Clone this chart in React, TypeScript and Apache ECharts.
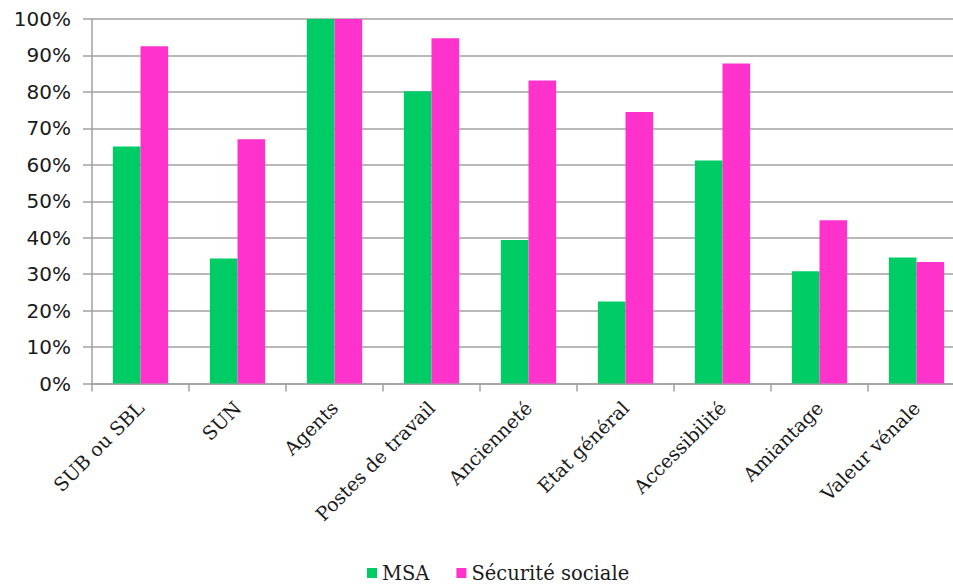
import React, { useEffect, useRef } from "react";
import * as echarts from "echarts";

const categories = [
  "SUB ou SBL",
  "SUN",
  "Agents",
  "Postes de travail",
  "Ancienneté",
  "Etat général",
  "Accessibilité",
  "Amiantage",
  "Valeur vénale",
];
const msaValues = [65.0, 34.3, 100, 80.2, 39.4, 22.5, 61.2, 30.8, 34.6];
const secuValues = [92.5, 67.0, 100, 94.7, 83.1, 74.5, 87.8, 44.8, 33.3];
const seriesNames = ["MSA", "Sécurité sociale"];

export default function App() {
  const ref = useRef<HTMLDivElement>(null);
  useEffect(() => {
    if (!ref.current) return;
    const chart = echarts.init(ref.current, undefined, { renderer: "svg" });
    chart.setOption({
      animation: false,
      backgroundColor: "#ffffff",
      grid: { left: 92, right: 0, top: 19, bottom: 203.5, containLabel: false },
      legend: {
        left: 362,
        bottom: -1,
        itemWidth: 10,
        itemHeight: 10,
        itemGap: 27,
        icon: "rect",
        textStyle: { fontFamily: "DejaVu Serif", fontSize: 19.5, color: "#1a1a1a" },
        data: seriesNames,
      },
      xAxis: {
        type: "category",
        data: categories,
        axisLine: { lineStyle: { color: "#a0a0a0", width: 1.5 } },
        axisTick: { show: true, length: 8, lineStyle: { color: "#a0a0a0", width: 1.5 } },
        axisLabel: {
          rotate: 45,
          interval: 0,
          margin: 21,
          fontFamily: "DejaVu Serif",
          fontSize: 19,
          color: "#1a1a1a",
        },
      },
      yAxis: {
        type: "value",
        min: 0,
        max: 100,
        interval: 10,
        axisLine: { show: true, lineStyle: { color: "#a0a0a0", width: 1.5 } },
        axisTick: { show: true, length: 9, lineStyle: { color: "#a0a0a0", width: 1.5 } },
        splitLine: { lineStyle: { color: "#a0a0a0", width: 1.5 } },
        axisLabel: {
          margin: 21,
          formatter: "{value}%",
          fontFamily: "DejaVu Sans",
          fontSize: 20,
          color: "#1a1a1a",
        },
      },
      series: [
        {
          name: seriesNames[0],
          type: "bar",
          data: msaValues,
          barGap: "0%",
          barCategoryGap: "43%",
          itemStyle: { color: "#00cc66" },
        },
        {
          name: seriesNames[1],
          type: "bar",
          data: secuValues,
          barGap: "0%",
          barCategoryGap: "43%",
          itemStyle: { color: "#ff33cc" },
        },
      ],
    });
    return () => chart.dispose();
  }, []);
  return (
    <div
      style={{ position: "fixed", left: 0, top: 0, width: 953, height: 587, overflow: "hidden", background: "#fff" }}
    >
      <div ref={ref} style={{ width: 965, height: 587 }} />
    </div>
  );
}
